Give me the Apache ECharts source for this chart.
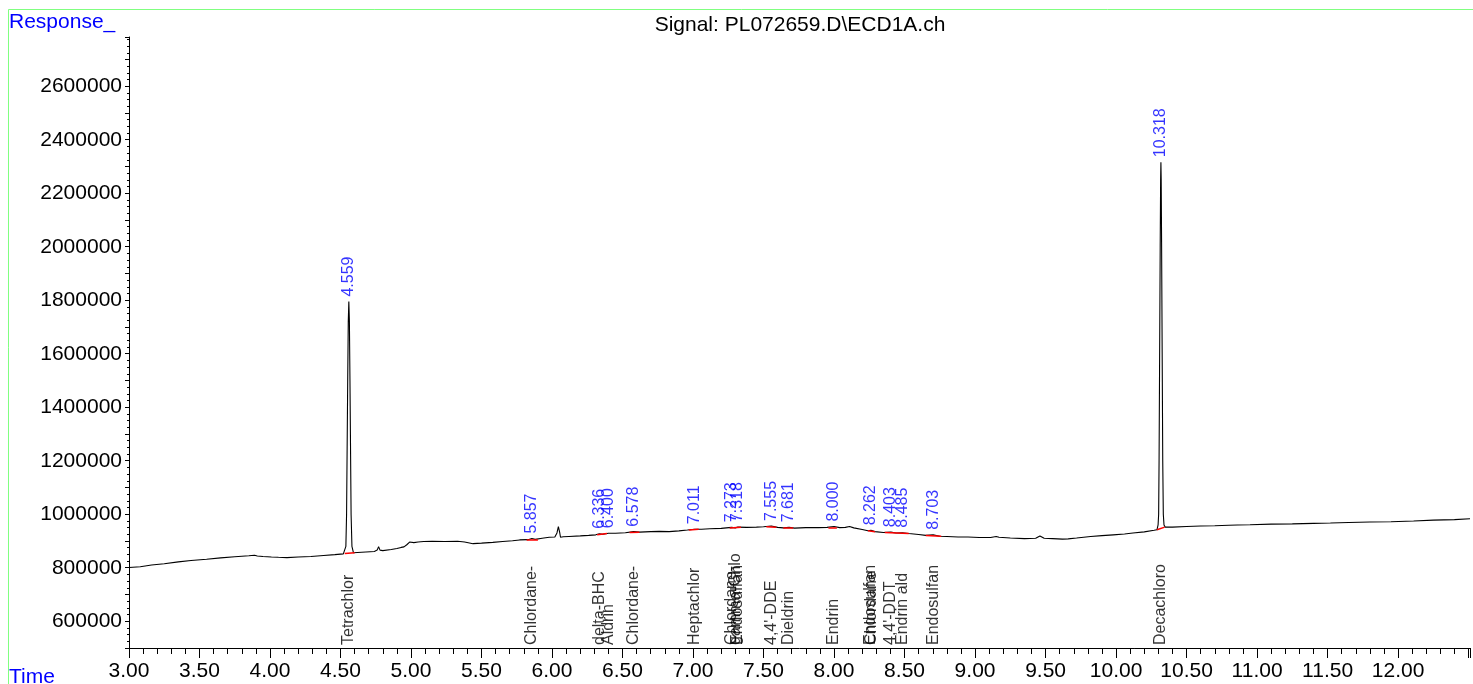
<!DOCTYPE html>
<html>
<head>
<meta charset="utf-8">
<script src="https://cdn.jsdelivr.net/npm/echarts@6/dist/echarts.min.js"></script>
<style>
html,body{margin:0;padding:0;background:#fff;}
#chart{width:1473px;height:684px;}
</style>
</head>
<body>
<div id="chart"></div>
<script>
// ---- data ----
const traceTime = [
3.00,3.08,3.16,3.25,3.35,3.44,3.55,3.65,3.75,3.85,3.89,3.91,3.95,4.01,4.06,4.12,4.20,4.29,4.38,4.46,4.52,
4.530,4.538,4.543,4.547,4.551,4.555,4.559,4.563,4.567,4.571,4.575,4.581,4.592,
4.62,4.68,4.74,4.760,4.770,4.780,4.80,4.86,4.90,4.93,4.95,4.97,4.99,5.00,5.02,5.05,5.09,5.15,5.24,5.33,5.38,5.44,
5.50,5.58,5.65,5.72,5.77,5.83,5.857,5.88,5.93,5.98,6.02,6.035,6.045,6.055,6.06,6.08,6.12,6.20,6.26,6.31,6.336,6.36,6.400,
6.45,6.52,6.578,6.62,6.70,6.76,6.83,6.90,6.96,7.011,7.06,7.12,7.20,7.273,7.30,7.318,7.38,7.45,7.50,7.555,7.60,7.64,7.681,
7.72,7.80,7.89,7.95,8.000,8.04,8.08,8.11,8.14,8.20,8.24,8.262,8.29,8.35,8.403,8.44,8.485,8.53,8.60,8.65,8.703,8.75,8.80,
8.88,8.95,9.03,9.11,9.15,9.17,9.25,9.35,9.43,9.46,9.49,9.55,9.62,9.66,9.72,9.82,9.90,9.98,10.06,10.09,10.10,10.12,10.20,10.27,
10.290,10.298,10.302,10.305,10.309,10.313,10.316,10.318,10.320,10.323,10.327,10.331,10.335,10.340,10.348,
10.40,10.50,10.60,10.70,10.80,10.86,10.95,11.10,11.25,11.40,11.52,11.65,11.80,11.95,12.11,12.25,12.40,12.51
];
const traceResponse = [
801000,804000,810000,815000,822000,827000,832000,837000,841000,845000,847000,844000,842000,840000,839000,838000,840000,842000,846000,849000,852000,
853000,880000,1000000,1250000,1500000,1720000,1795000,1720000,1500000,1250000,1000000,880000,856000,
857000,859000,861000,866000,879000,866000,864000,868000,872000,876000,878000,886000,896000,902000,894000,896000,898000,899000,898000,899000,896000,890000,
892000,895000,898000,901000,904000,905000,909000,906000,910000,914000,915000,930000,954000,930000,914000,916000,917000,919000,921000,923000,927000,925000,929000,
929000,931000,935000,933000,935000,936000,935000,938000,941000,944000,944000,946000,947000,951000,949000,952000,951000,952000,953000,956000,951000,949000,951000,
948000,950000,950000,951000,954000,950000,951000,954000,949000,943000,938000,940000,935000,932000,933000,930000,931000,928000,924000,921000,923000,918000,917000,
915000,915000,913000,913000,917000,914000,911000,909000,910000,919000,910000,909000,907000,908000,911000,917000,920000,923000,926000,928000,935000,930000,934000,940000,
942000,960000,1000000,1200000,1600000,2000000,2250000,2316000,2250000,2000000,1600000,1200000,1000000,960000,952000,
952000,954000,956000,957000,959000,960000,961000,963000,964000,966000,967000,969000,971000,972000,975000,978000,980000,983000
];
// labelled peaks
const peakRT = [4.559,5.857,6.336,6.400,6.578,7.011,7.273,7.318,7.555,7.681,8.000,8.262,8.403,8.485,8.703,10.318];
const peakLabel = ['4.559','5.857','6.336','6.400','6.578','7.011','7.273','7.318','7.555','7.681','8.000','8.262','8.403','8.485','8.703','10.318'];
const peakApex = [1795000,909000,927000,929000,935000,944000,951000,952000,956000,951000,954000,940000,933000,931000,923000,2316000];
// compound names (truncated, as printed)
const compoundRT = [4.559,5.857,6.336,6.400,6.578,7.011,7.273,7.300,7.318,7.555,7.681,8.000,8.262,8.265,8.403,8.485,8.703,10.318];
const compoundName = ['Tetrachlor','Chlordane-','delta-BHC','Aldrin','Chlordane-','Heptachlor','Chlordane-','gamma-Chlo','Endosulfan','4,4\'-DDE','Dieldrin','Endrin','Endosulfan','Chlordane','4,4\'-DDT','Endrin ald','Endosulfan','Decachloro'];
// integration baselines
const intStartT = [4.530,5.82,6.32,6.55,6.97,7.26,7.52,7.64,7.96,8.24,8.36,8.65,10.290];
const intStartV = [853000,905000,923000,932000,941000,949000,953000,949000,951000,938000,932000,921000,942000];
const intEndT = [4.600,5.90,6.39,6.62,7.04,7.34,7.59,7.71,8.02,8.29,8.53,8.76,10.345];
const intEndV = [856000,906000,928000,933000,944000,951000,951000,948000,950000,935000,928000,918000,952000];
// axis ticks
const yTickLabels = [600000,800000,1000000,1200000,1400000,1600000,1800000,2000000,2200000,2400000,2600000];
const xMin = 3.0, xMax = 12.51, yMin = 500000, yMax = 2784000;

const FONT = 'Liberation Sans, Arial, sans-serif';
const chart = echarts.init(document.getElementById('chart'), null, {renderer:'canvas'});

const traceData = traceTime.map((t,i)=>[t,traceResponse[i]]);
const peakData = peakRT.map((t,i)=>({value:[t,peakApex[i]], label:{formatter:peakLabel[i]}}));
const nameData = compoundRT.map((t,i)=>({value:[t,yMin], label:{formatter:compoundName[i]}}));
const intData = intStartT.map((t,i)=>({coords:[[t,intStartV[i]],[intEndT[i],intEndV[i]]]}));

chart.setOption({
  animation:false,
  backgroundColor:'#ffffff',
  grid:{left:129,right:0,top:37,bottom:36,containLabel:false},
  xAxis:{
    type:'value', min:xMin, max:xMax, interval:0.5,
    axisLine:{show:true,onZero:false,lineStyle:{color:'#000',width:1}},
    axisTick:{show:true,length:10,lineStyle:{color:'#000'}},
    minorTick:{show:true,splitNumber:5,length:6,lineStyle:{color:'#000'}},
    splitLine:{show:false},
    axisLabel:{color:'#000',fontSize:21,fontFamily:FONT,margin:13,
      formatter:v=> (v<=12.0+1e-9) ? v.toFixed(2) : ''}
  },
  yAxis:{
    type:'value', min:yMin, max:yMax, interval:100000,
    axisLine:{show:true,lineStyle:{color:'#000',width:1}},
    axisTick:{show:true,length:4,lineStyle:{color:'#000'}},
    minorTick:{show:true,splitNumber:4,length:2,lineStyle:{color:'#000'}},
    splitLine:{show:false},
    axisLabel:{color:'#000',fontSize:21,fontFamily:FONT,margin:7,
      formatter:v=> yTickLabels.indexOf(v)>=0 ? String(v) : ''}
  },
  series:[
    {type:'line', data:traceData, showSymbol:false, symbol:'none',
     lineStyle:{color:'#000',width:1.1}, z:2},
    {type:'lines', coordinateSystem:'cartesian2d', data:intData,
     lineStyle:{color:'#ff0000',width:1.5,opacity:1}, z:3},
    {type:'scatter', data:peakData, symbolSize:0, z:4, silent:true,
     label:{show:true,position:'top',distance:5,rotate:90,align:'left',verticalAlign:'middle',
       color:'#0000ff',fontSize:16,fontFamily:FONT}},
    {type:'scatter', data:nameData, symbolSize:0, z:4, silent:true,
     label:{show:true,position:'top',distance:3,rotate:90,align:'left',verticalAlign:'middle',
       color:'#000',fontSize:16,fontFamily:FONT}}
  ],
  graphic:[
    {type:'rect', shape:{x:8.5,y:9.5,width:1480,height:700}, style:{fill:null,stroke:'#80ff80',lineWidth:1}, silent:true, z:0},
    {type:'text', x:9, y:22, style:{text:'Response_',fill:'#0000ff',font:'21px '+FONT,textVerticalAlign:'middle',textAlign:'left'}},
    {type:'text', x:9, y:677, style:{text:'Time',fill:'#0000ff',font:'21px '+FONT,textVerticalAlign:'middle',textAlign:'left'}},
    {type:'text', x:800, y:25, style:{text:'Signal: PL072659.D\\ECD1A.ch',fill:'#000',font:'21px '+FONT,textVerticalAlign:'middle',textAlign:'center'}}
  ]
});
</script>
</body>
</html>
